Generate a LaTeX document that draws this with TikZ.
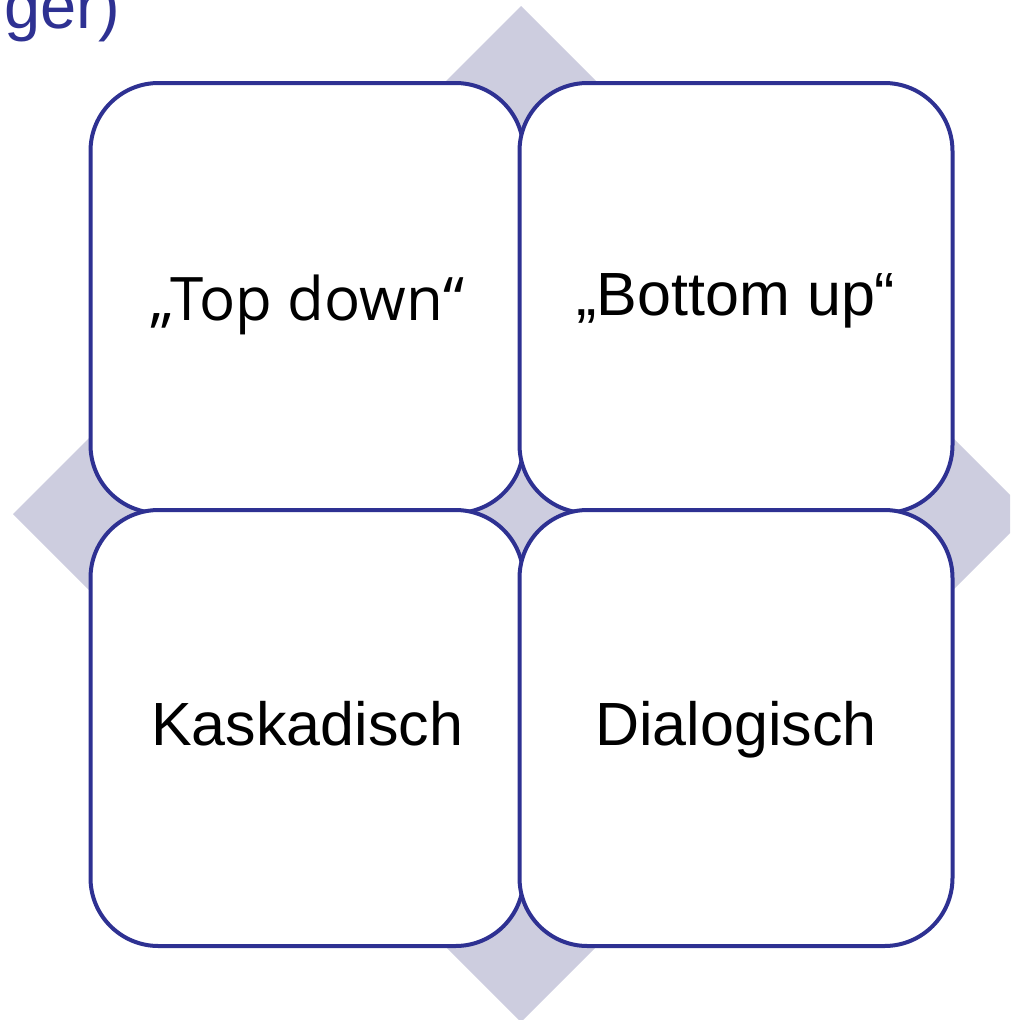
\documentclass[tikz,border=0pt]{standalone}
\usepackage{fontspec}
\setmainfont{Liberation Sans}
\newfontfamily\humanist{Open Sans}
\usetikzlibrary{calc}
\usetikzlibrary{positioning}
\definecolor{frameblue}{RGB}{46,49,146}
\definecolor{diamondgray}{RGB}{205,205,223}
\tikzset{
  cell/.style={rectangle, rounded corners=68pt, draw=frameblue, line width=4pt,
    fill=white, minimum width=433pt, minimum height=430pt, inner sep=0pt,
    text height=34pt, text depth=0pt,
    font=\fontsize{61}{72}\selectfont},
  lowcell/.style={cell, minimum height=436pt},
}
\begin{document}
\begin{tikzpicture}[x=1pt, y=-1pt]
    \useasboundingbox (0,0) rectangle (1010,1020);
    \clip (0,0) rectangle (1010,1020);
    % diamond behind the four cells
    \fill[diamondgray] (521,6) -- (1029,514) -- (521,1022) -- (13,514) -- cycle;
    \node(topdown)[cell, text height=44pt, font=\humanist\fontsize{60}{72}\selectfont] at (307,298) {„Top down“};
    \node(bottomup)[cell] at (736,298) {„Bottom up“};
    \node(kaskad)[lowcell] at (307,728) {Kaskadisch};
    \node(dialog)[lowcell] at (736,728) {Dialogisch};
    \node(title)[anchor=base west, inner sep=0pt, text=frameblue,
      font=\fontsize{65}{78}\selectfont] at (4,28) {ger)};
\end{tikzpicture}
\end{document}
